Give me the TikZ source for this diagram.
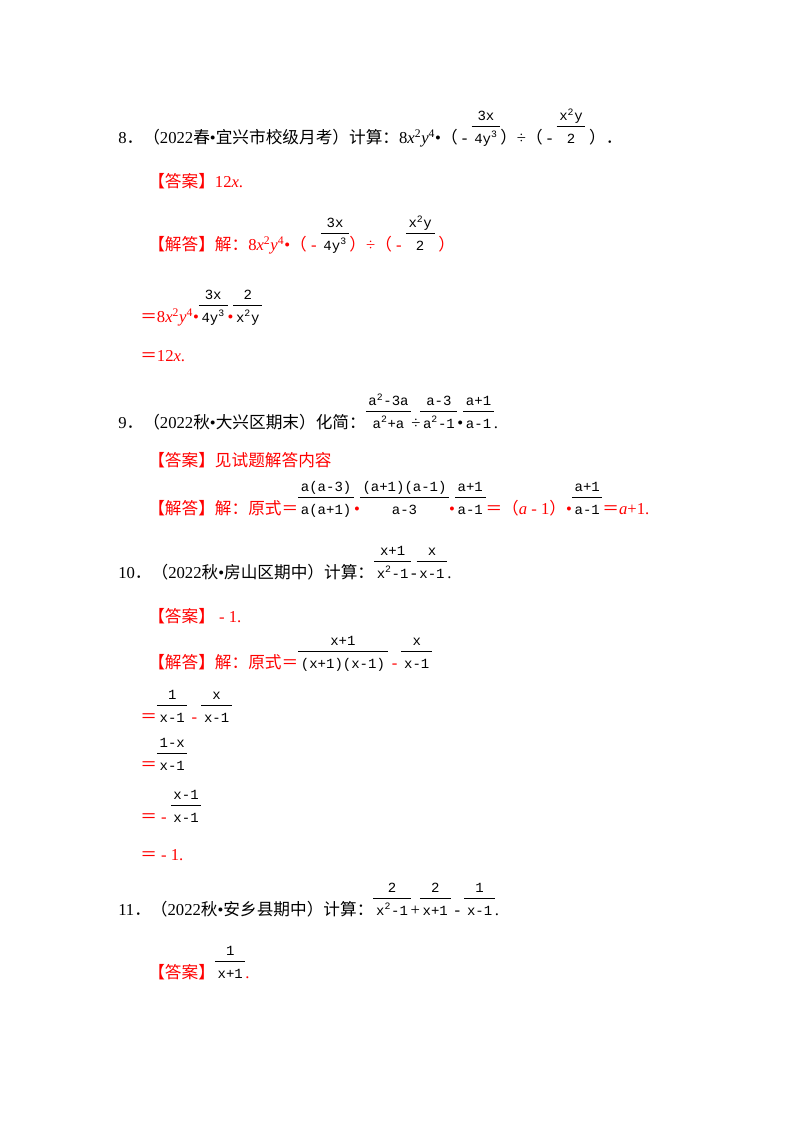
\documentclass[tikz,border=0pt]{standalone}
\usepackage{fontspec}
\setmainfont{Liberation Serif}
\newfontfamily\cjk{Noto Sans CJK SC}
\newfontfamily\frf{Liberation Mono}
\newcommand{\C}[1]{{\cjk #1}}
\newcommand{\fr}[2]{{\color{black}\frf\fontsize{10.5}{12}\selectfont\setlength{\tabcolsep}{2pt}\begin{tabular}[b]{c}#1\\[1pt]\hline\rule{0pt}{12pt}#2\end{tabular}}}
\newcommand{\vx}{\textit{x}}
\newcommand{\vy}{\textit{y}}
\newcommand{\sq}{\textsuperscript{2}}
\newcommand{\hd}[1]{\C{【#1】}}
\begin{document}
\begin{tikzpicture}[x=0.75pt,y=-0.75pt,
 ln/.style={anchor=base west,inner sep=0pt,font=\fontsize{12.5}{14}\selectfont},
 rd/.style={ln,text=red}]
\useasboundingbox (0,0) rectangle (800,1132);
\node[ln] (q8) at (118,143) {8\C{．}\C{（}2022\C{春}•\C{宜兴市校级月考）计算：}8\vx\sq\vy\textsuperscript{4}•\C{（} - \fr{3x}{4y\textsuperscript{3}}\C{）}÷\C{（} - \fr{x\sq y}{2}\C{ ）}\C{．}};
\node[rd] (a8) at (148,187) {\hd{答案}12\vx.};
\node[rd] (s8) at (148,250) {\hd{解答}\C{解：}8\vx\sq\vy\textsuperscript{4}•\C{（} - \fr{3x}{4y\textsuperscript{3}}\C{）}÷\C{（} - \fr{x\sq y}{2}\C{ ）}};
\node[rd] (s8b) at (140,322) {\C{＝}8\vx\sq\vy\textsuperscript{4}•\fr{3x}{4y\textsuperscript{3}}•\fr{2}{x\sq y}};
\node[rd] (s8c) at (140,361) {\C{＝}12\vx.};
\node[ln] (q9) at (118,428) {9\C{．}\C{（}2022\C{秋}•\C{大兴区期末）化简：}\fr{a\sq-3a}{a\sq+a}÷\fr{a-3}{a\sq-1}•\fr{a+1}{a-1}.};
\node[rd] (a9) at (148,466) {\hd{答案}\C{见试题解答内容}};
\node[rd] (s9) at (148,514) {\hd{解答}\C{解：原式＝}\fr{a(a-3)}{a(a+1)}•\fr{(a+1)(a-1)}{a-3}•\fr{a+1}{a-1}\C{＝（}\textit{a} - 1\C{）}•\fr{a+1}{a-1}\C{＝}\textit{a}+1.};
\node[ln] (q10) at (118,578) {10\C{．}\C{（}2022\C{秋}•\C{房山区期中）计算：}\fr{x+1}{x\sq-1}-\fr{x}{x-1}.};
\node[rd] (a10) at (148,622) {\hd{答案} - 1.};
\node[rd] (s10) at (148,668) {\hd{解答}\C{解：原式＝}\fr{x+1}{(x+1)(x-1)} - \fr{x}{x-1}};
\node[rd] (s10b) at (140,722) {\C{＝}\fr{1}{x-1} - \fr{x}{x-1}};
\node[rd] (s10c) at (140,770) {\C{＝}\fr{1-x}{x-1}};
\node[rd] (s10d) at (140,822) {\C{＝} - \fr{x-1}{x-1}};
\node[rd] (s10e) at (140,860) {\C{＝} - 1.};
\node[ln] (q11) at (118,915) {11\C{．}\C{（}2022\C{秋}•\C{安乡县期中）计算：}\fr{2}{x\sq-1}+\fr{2}{x+1} - \fr{1}{x-1}.};
\node[rd] (a11) at (148,978) {\hd{答案}\fr{1}{x+1}.};
\end{tikzpicture}
\end{document}
